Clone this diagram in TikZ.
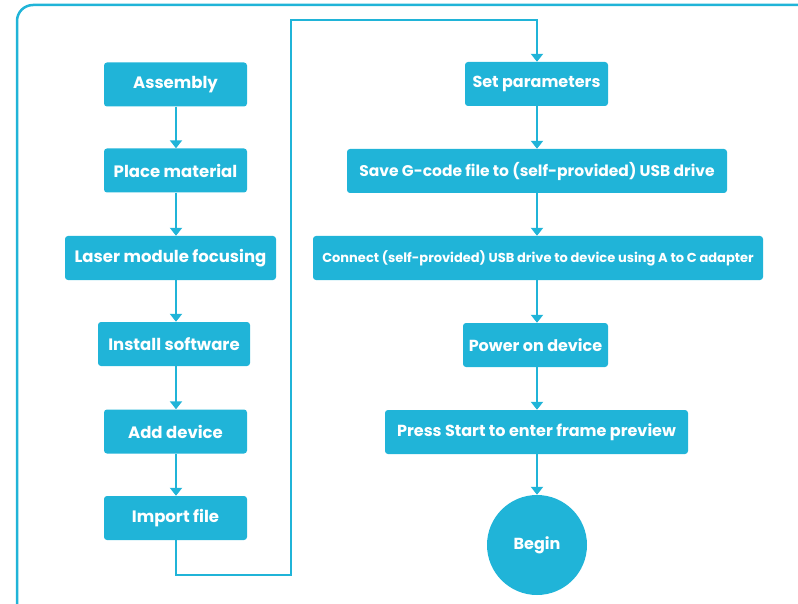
\documentclass[tikz,border=0pt]{standalone}
\usepackage{fontspec}
\setmainfont{Poppins}
\usetikzlibrary{arrows.meta}
\definecolor{flow}{HTML}{20B4D8}
\tikzset{
  box/.style={fill=flow, rounded corners=3pt, text=white, font=\fontsize{16}{18}\selectfont\bfseries, minimum height=44pt, inner sep=0pt, anchor=center},
  lbox/.style={box, font=\fontsize{16.5}{18}\selectfont\bfseries},
  link/.style={draw=flow, line width=2.5pt, -{Triangle[width=12pt,length=8pt]}}
}
\begin{document}
\begin{tikzpicture}[x=1pt,y=-1pt]
\useasboundingbox (0,0) rectangle (798,604);
\draw[flow, line width=2.5pt, rounded corners=16pt] (17,5) -- (17,650) -- (900,650) -- (900,5) -- cycle;
\coordinate (lx) at (176,0);
\coordinate (rx) at (537,0);
\node[lbox, minimum width=143pt] (a1) at (175.5,84.5) {Assembly};
\node[lbox, minimum width=143pt] (a2) at (175.5,170.5) {Place material};
\node[lbox, minimum width=211pt] (a3) at (170.5,258) {Laser module focusing};
\node[lbox, minimum width=152pt] (a4) at (174,344) {Install software};
\node[lbox, minimum width=143pt] (a5) at (175.5,431.5) {Add device};
\node[lbox, minimum width=143pt] (a6) at (175.5,518) {Import file};
\node[box, minimum width=143pt] (b1) at (536.5,84) {Set parameters};
\node[box, minimum width=380pt, font=\fontsize{15.5}{17}\selectfont\bfseries] (b2) at (537,171) {Save G-code file to (self-provided) USB drive};
\node[box, minimum width=450pt, font=\fontsize{13}{15}\selectfont\bfseries] (b3) at (538,258) {Connect (self-provided) USB drive to device using A to C adapter};
\node[box, minimum width=145pt] (b4) at (535.5,345) {Power on device};
\node[box, minimum width=303pt] (b5) at (536.5,432) {Press Start to enter frame preview};
\node[box, circle, minimum size=100pt, rounded corners=0pt] (b6) at (537,545) {Begin};
\foreach \u/\v in {a1/a2,a2/a3,a3/a4,a4/a5,a5/a6}
  \draw[link] (\u.south -| lx) -- (\v.north -| lx);
\foreach \u/\v in {b1/b2,b2/b3,b3/b4,b4/b5,b5/b6}
  \draw[link] (\u.south -| rx) -- (\v.north -| rx);
\coordinate (c1) at (176,575);
\coordinate (c2) at (291,575);
\coordinate (c3) at (291,20);
\coordinate (c4) at (537,20);
\draw[link] (a6.south -| c1) -- (c1) -- (c2) -- (c3) -- (c4) -- (b1.north -| c4);
\end{tikzpicture}
\end{document}
